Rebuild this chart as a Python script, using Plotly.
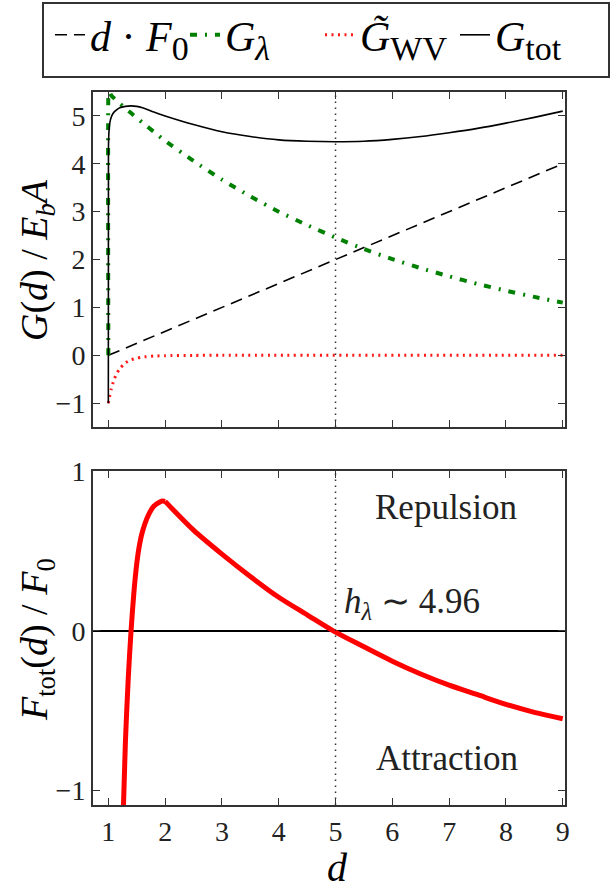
import plotly.graph_objects as go

# ---------------- data ----------------
d_lin = [1.0, 9.0]
dF0 = [0.0, 4.0]

d_lam = [1.0, 1.003, 1.01, 1.05, 1.1, 1.2, 1.3, 1.4, 1.5, 1.6, 1.8, 2.0, 2.5, 3.0,
         3.5, 4.0, 4.5, 5.0, 5.5, 6.0, 6.5, 7.0, 7.5, 8.0, 8.5, 9.0]
G_lam = [0.0, 5.6, 5.55, 5.43, 5.37, 5.26, 5.16, 5.06, 4.96, 4.86, 4.67, 4.48, 4.06, 3.67,
         3.32, 3.00, 2.72, 2.46, 2.22, 2.01, 1.82, 1.65, 1.49, 1.35, 1.22, 1.10]

d_wv = [1.0, 1.02, 1.05, 1.1, 1.15, 1.2, 1.3, 1.4, 1.5, 1.6, 1.8, 2.0, 2.5, 3.0, 9.0]
G_wv = [-1.0, -0.87, -0.71, -0.51, -0.38, -0.28, -0.16, -0.095, -0.059, -0.037, -0.016,
        -0.008, -0.002, 0.0, 0.0]

d_tot = [1.0, 1.002, 1.01, 1.03, 1.06, 1.1, 1.15, 1.2, 1.3, 1.4, 1.5, 1.6, 1.8, 2.0, 2.5,
         3.0, 3.5, 4.0, 4.5, 5.0, 5.5, 6.0, 6.5, 7.0, 7.5, 8.0, 8.5, 9.0]
G_tot = [-1.0, 4.3, 4.65, 4.88, 5.0, 5.08, 5.13, 5.17, 5.20, 5.21, 5.20, 5.17, 5.08, 5.0, 4.82,
         4.67, 4.57, 4.50, 4.47, 4.46, 4.47, 4.51, 4.57, 4.65, 4.74, 4.85, 4.97, 5.10]

d_F = [1.24, 1.3, 1.35, 1.4, 1.45, 1.5, 1.55, 1.6, 1.7, 1.8, 1.9, 1.95, 2.0, 2.5, 3.0, 3.5,
       4.0, 4.5, 4.96, 5.5, 6.0, 6.5, 7.0, 7.5, 8.0, 8.5, 9.0]
F_tot = [-1.4, -0.70, -0.30, 0.0, 0.24, 0.42, 0.54, 0.62, 0.72, 0.78, 0.805, 0.812, 0.81, 0.63,
         0.48, 0.34, 0.21, 0.10, 0.0, -0.10, -0.19, -0.27, -0.34, -0.40, -0.46, -0.51, -0.55]
F_kink_d = 2.0   # the force curve has a corner here

h_line_d = 5.0
x_ticks = [1, 2, 3, 4, 5, 6, 7, 8, 9]
top_yticks = [-1, 0, 1, 2, 3, 4, 5]
bot_yticks = [-1, 0, 1]

SERIF = "Liberation Serif"
INK = "#222222"

# figure fills the whole window (body margin removed by post_script below)
W, H = 612, 890
ML, MR, MT, MB = 93, 47, 92, 85
PW, PH = W - ML - MR, H - MT - MB


def px_x(px):  # window x pixel -> paper x
    return (px - ML) / PW


def px_y(py):  # window y pixel -> paper y
    return 1 - (py - MT) / PH


SUB = "<sub><span style='font-size:34px'>{}</span></sub>"

fig = go.Figure()

# top panel (xaxis2 / yaxis2)
fig.add_trace(go.Scatter(x=d_lin, y=dF0, mode="lines", xaxis="x2", yaxis="y2",
                         name="<i>d</i> · <i>F</i>" + SUB.format("0"),
                         line=dict(color="black", width=1.6, dash="12px,7px")))
fig.add_trace(go.Scatter(x=d_lam, y=G_lam, mode="lines", xaxis="x2", yaxis="y2",
                         name="<i>G</i>" + SUB.format("<i>λ</i>"),
                         line=dict(color="#008000", width=4, dash="7px,8px,2px,8px",
                                   shape="spline", smoothing=0.6)))
fig.add_trace(go.Scatter(x=d_wv, y=G_wv, mode="lines", xaxis="x2", yaxis="y2",
                         name="<i>G\u0303</i>" + SUB.format("WV"),
                         line=dict(color="#ff1a1a", width=3, dash="2px,4.5px",
                                   shape="spline", smoothing=0.6)))
fig.add_trace(go.Scatter(x=d_tot, y=G_tot, mode="lines", xaxis="x2", yaxis="y2",
                         name="<i>G</i>" + SUB.format("tot"),
                         line=dict(color="black", width=1.6, shape="spline", smoothing=0.6)))

# bottom panel: force curve, drawn in two pieces so the corner stays sharp
k = d_F.index(F_kink_d)
fig.add_trace(go.Scatter(x=d_F[:k + 1], y=F_tot[:k + 1], mode="lines", xaxis="x", yaxis="y",
                         showlegend=False,
                         line=dict(color="#ff0000", width=5, shape="spline", smoothing=0.8)))
fig.add_trace(go.Scatter(x=d_F[k:], y=F_tot[k:], mode="lines", xaxis="x", yaxis="y",
                         showlegend=False,
                         line=dict(color="#ff0000", width=5, shape="spline", smoothing=0.8)))

axis_common = dict(showline=True, mirror="ticks", linecolor="#333333", linewidth=2,
                   ticks="inside", ticklen=7, tickwidth=1.3, tickcolor="#333333",
                   showgrid=False, tickfont=dict(family=SERIF, size=28, color=INK))

fig.update_layout(
    width=W, height=H, autosize=False,
    margin=dict(l=ML, r=MR, t=MT, b=MB, autoexpand=False),
    plot_bgcolor="white", paper_bgcolor="white",
    font=dict(family=SERIF, color=INK),
    xaxis=dict(domain=[0, 1], anchor="y", range=[0.73, 9.04], tickvals=x_ticks,
               zeroline=False, **axis_common),
    yaxis=dict(domain=[0, 0.4684], anchor="x", range=[-1.09, 1.0], tickvals=bot_yticks,
               zeroline=True, zerolinecolor="black", zerolinewidth=1.5, **axis_common),
    xaxis2=dict(domain=[0, 1], anchor="y2", matches="x", range=[0.73, 9.04],
                tickvals=x_ticks, showticklabels=False, zeroline=False, **axis_common),
    yaxis2=dict(domain=[0.530, 1], anchor="x2", range=[-1.5, 5.5], tickvals=top_yticks,
                zeroline=False, **axis_common),
    legend=dict(orientation="h", x=px_x(50), y=px_y(35), xanchor="left", yanchor="middle",
                font=dict(family=SERIF, size=42, color="black"), bgcolor="rgba(0,0,0,0)",
                itemwidth=30, traceorder="normal",
                entrywidth=90, entrywidthmode="pixels"),
)

# legend frame
fig.add_shape(type="rect", xref="paper", yref="paper",
              x0=px_x(43), x1=px_x(609), y0=px_y(77), y1=px_y(3),
              line=dict(color="#333333", width=2), fillcolor="rgba(0,0,0,0)")

# vertical dotted lines at h_lambda
for xr, yref in [("x", "y domain"), ("x2", "y2 domain")]:
    fig.add_shape(type="line", xref=xr, yref=yref, x0=h_line_d, x1=h_line_d, y0=0, y1=1,
                  line=dict(color="#333333", width=1.5, dash="1.5px,4.5px"))

# axis titles
title_font = dict(family=SERIF, size=38, color="black")
fig.add_annotation(x=px_x(37), y=px_y(260), xref="paper", yref="paper", textangle=-90,
                   xanchor="center", yanchor="middle",
                   text="<i>G</i>(<i>d</i>) / <i>E</i><sub><i>b</i></sub><i>A</i>",
                   showarrow=False, font=title_font)
fig.add_annotation(x=px_x(37), y=px_y(640), xref="paper", yref="paper", textangle=-90,
                   xanchor="center", yanchor="middle",
                   text="<i>F</i><sub>tot</sub>(<i>d</i>) / <i>F</i><sub>0</sub>",
                   showarrow=False, font=title_font)
fig.add_annotation(x=px_x(337), y=px_y(867), xref="paper", yref="paper",
                   xanchor="center", yanchor="middle", height=38, valign="middle",
                   text="<i>d</i>", showarrow=False,
                   font=dict(family=SERIF, size=40, color="black"))

ann_font = dict(family=SERIF, size=35, color=INK)
fig.add_annotation(x=6.95, y=0.77, xref="x", yref="y", text="Repulsion",
                   showarrow=False, font=ann_font)
fig.add_annotation(x=6.96, y=-0.80, xref="x", yref="y", text="Attraction",
                   showarrow=False, font=ann_font)
fig.add_annotation(x=5.12, y=0.17, xref="x", yref="y", xanchor="left",
                   text="<i>h</i><sub><i>λ</i></sub> ∼ 4.96",
                   showarrow=False, font=ann_font)

fig.write_html("out.html",
               config={"displayModeBar": False},
               post_script="document.body.style.margin='0';"
                           "document.body.style.overflow='hidden';")
